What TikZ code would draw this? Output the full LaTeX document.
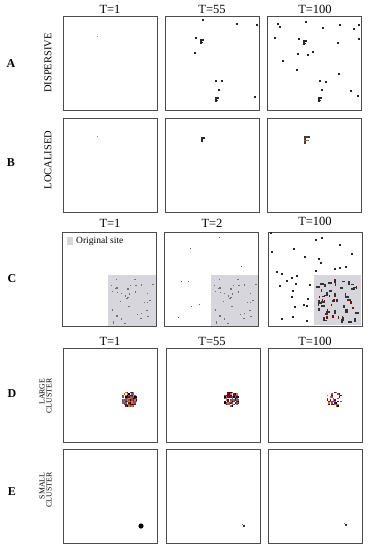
\documentclass[tikz,border=0pt]{standalone}
\usepackage{fontspec}
\setmainfont{Liberation Serif}
\usetikzlibrary{positioning}

\pgfmathdeclarerandomlist{blobhues}{{black}{red!60!black}{orange!90!black}{violet!70!black}{black!60}{violet!40!gray}}
\newcommand{\clusterblob}[4]{%
	\pgfmathsetseed{#3}
	\foreach \i in {-5,...,4}{
		\foreach \j in {-5,...,4}{
			\pgfmathsetmacro\roll{rnd}
			\pgfmathtruncatemacro\keep{((\roll<#4) && ((\i+0.5)*(\i+0.5)+(\j+0.5)*(\j+0.5)<27)) ? 1 : 0}
			\pgfmathrandomitem{\hue}{blobhues}
			\ifnum\keep=1 \fill[\hue] (#1+1.5*\i,#2+1.5*\j) rectangle ++(1.5,1.5);\fi
		}
	}
}

\begin{document}
\begin{tikzpicture}[x=1pt,y=-1pt,
	panel/.style={draw=black!70,line width=1pt,fill=white,minimum width=94pt,minimum height=94pt,inner sep=0pt},
	tlabel/.style={font=\fontsize{12.5}{14}\selectfont},
	rowlab/.style={font=\bfseries\fontsize{12}{14}\selectfont},
	kind/.style={rotate=90,align=center,font=\fontsize{10.5}{12}\selectfont},
	kindsmall/.style={rotate=90,align=right,font=\fontsize{7.8}{7}\selectfont},
	site/.style={fill=blue!8!gray!30},
	cell/.style={fill=black!85},
	faint/.style={fill=black!45}]
	\useasboundingbox (0,0) rectangle (369,550);

	% panels
	\node[panel] (a1) at (110,63.5) {};
	\node[panel] (a2) at (212.5,63.5) {};
	\node[panel] (a3) at (314.5,63.5) {};
	\node[panel] (b1) at (110,165) {};
	\node[panel] (b2) at (212.5,165) {};
	\node[panel] (b3) at (314.5,165) {};
	\node[panel] (c1) at (109.5,279) {};
	\node[panel] (c2) at (211.5,279) {};
	\node[panel] (c3) at (315,279) {};
	\node[panel] (d1) at (110.5,395.5) {};
	\node[panel] (d2) at (213,395.5) {};
	\node[panel] (d3) at (315.5,395.5) {};
	\node[panel] (e1) at (110.5,496.5) {};
	\node[panel] (e2) at (213,496.5) {};
	\node[panel] (e3) at (315.5,496.5) {};

	% time labels
	\node[tlabel] (ta1) at (110,9) {T=1};
	\node[tlabel] (ta2) at (212,9) {T=55};
	\node[tlabel] (ta3) at (315,9) {T=100};
	\node[tlabel] (tc1) at (110,223) {T=1};
	\node[tlabel] (tc2) at (212,223) {T=2};
	\node[tlabel] (tc3) at (315,221) {T=100};
	\node[tlabel] (td1) at (110,341) {T=1};
	\node[tlabel] (td2) at (212,341) {T=55};
	\node[tlabel] (td3) at (315,341) {T=100};

	% row letters and scenario names
	\node[rowlab] (la) at (11,64) {A};
	\node[rowlab] (lb) at (11,163) {B};
	\node[rowlab] (lc) at (12,279) {C};
	\node[rowlab] (ld) at (12,394) {D};
	\node[rowlab] (le) at (12,492) {E};
	\node[kind] (na) at (48,63) {DISPERSIVE};
	\node[kind] (nb) at (48,160) {LOCALISED};
	\node[kindsmall] (nd) at (45.5,396) {LARGE\\CLUSTER};
	\node[kindsmall] (ne) at (45.5,490) {SMALL\\CLUSTER};

	% A: dispersive
	\fill[faint] (97,36) rectangle ++(1.2,1.2);
	\foreach \x/\y in {202/19, 236/23, 256/24, 195/37, 194/52, 215/80, 221/80, 218/89, 254/96,
		277/23, 279/26, 305/21, 322/27, 339/24, 353/28, 358/24, 274/37, 298/38, 337/42, 358/38,
		297/53, 307/54, 312/51, 282/60, 296/69, 338/73, 319/80, 325/81, 321/89, 350/90, 357/95} {
		\fill[cell] (\x,\y) rectangle ++(2,2);
	}
	\foreach \x/\y in {200/39, 215/97, 303/40, 318/97} {
		\fill[cell] (\x,\y) rectangle ++(1.5,5);
		\fill[cell] (\x,\y) rectangle ++(4,1.5);
		\fill[cell] (\x,\y+2.5) rectangle ++(3,1.5);
	}

	% B: localised
	\fill[faint] (97,136) rectangle ++(1.2,1.2);
	\fill[cell] (201,137) rectangle ++(1.5,5);
	\fill[cell] (201,137) rectangle ++(4,1.5);
	\fill[black!75] (304,136) rectangle ++(1.5,8);
	\fill[black!75] (304,136) rectangle ++(6,1.5);
	\fill[orange!70!black] (304,139.5) rectangle ++(4.5,1.5);

	% C: original site
	\fill[site] (108,275) rectangle (155.5,325.5);
	\fill[site] (211,275) rectangle (257.5,325.5);
	\fill[site] (314,275) rectangle (360.5,325);
	\fill[site] (67,237) rectangle (73,245);
	\node[anchor=west,font=\fontsize{9.5}{11}\selectfont,inner sep=0pt] (legend) at (76,241) {Original site};
	\foreach \ox in {0,103} {
		\pgfmathsetseed{42}
		\foreach \i in {1,...,36} {
			\pgfmathsetmacro\px{110+\ox+44*rnd}
			\pgfmathsetmacro\py{278+45*rnd}
			\fill[black!55] (\px,\py) rectangle ++(1.3,1.3);
		}
	}
	\foreach \x/\y in {219/237, 190/248, 241/266, 181/281, 188/281, 191/306, 199/304, 178/317} {
		\fill[black!60] (\x,\y) rectangle ++(1.3,1.3);
	}
	\foreach \x/\y in {270/232, 315/239, 321/237, 339/244, 293/248, 271/251, 304/256, 351/253, 318/258,
		320/262, 334/268, 339/267, 345/266, 276/271, 281/273, 315/270, 296/275, 291/277, 286/280,
		279/285, 295/283, 309/284, 292/290, 291/296, 307/298, 294/306, 303/304, 306/305, 281/318,
		292/316, 306/320} {
		\fill[cell] (\x,\y) rectangle ++(1.8,2.2);
	}
	\pgfmathsetseed{7}
	\foreach \i in {1,...,44} {
		\pgfmathsetmacro\px{316+40*rnd}
		\pgfmathsetmacro\py{278+43*rnd}
		\pgfmathsetmacro\w{rnd<0.5 ? 3.5 : 1.6}
		\pgfmathsetmacro\h{\w<2 ? 3.5 : 1.6}
		\fill[black!80] (\px,\py) rectangle ++(\w,\h);
	}
	\pgfmathsetseed{9}
	\foreach \i in {1,...,14} {
		\pgfmathsetmacro\px{316+40*rnd}
		\pgfmathsetmacro\py{278+43*rnd}
		\fill[red!55!black] (\px,\py) rectangle ++(1.4,2.4);
	}

	% D: large cluster
	\clusterblob{129.5}{399}{3}{0.9}
	\clusterblob{231.5}{399}{5}{0.7}
	\clusterblob{334}{399}{8}{0.5}

	% E: small cluster
	\fill[black] (141,526) circle (2.6);
	\fill[black!80] (243,525) rectangle ++(2,1.5);
	\fill[orange!80!black] (242,524) rectangle ++(1.2,1.2);
	\fill[black!80] (345,524) rectangle ++(2,1.5);
	\fill[orange!80!black] (344,523) rectangle ++(1.2,1.2);
\end{tikzpicture}
\end{document}
